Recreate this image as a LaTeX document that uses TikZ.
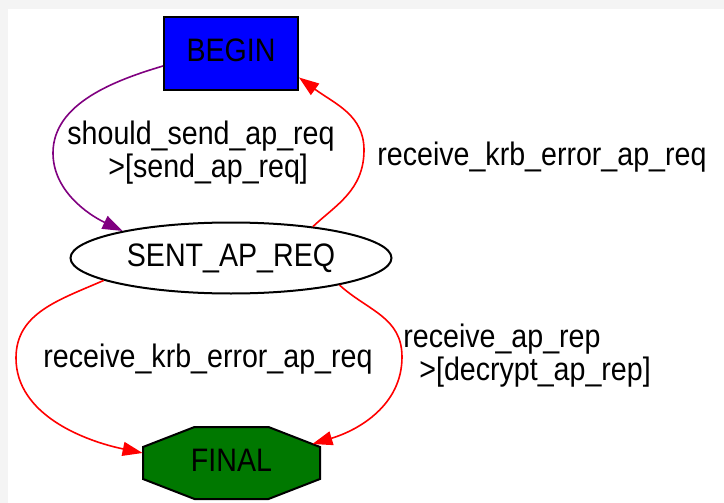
\documentclass[tikz,border=0pt]{standalone}
\usepackage{fontspec}
\setmainfont{Liberation Sans}[FakeStretch=0.88]
\usetikzlibrary{arrows.meta,calc,shapes.geometric}

\definecolor{pagegray}{HTML}{F4F4F4}
\definecolor{edgepurple}{HTML}{800080}
\definecolor{finalgreen}{HTML}{007800}

\begin{document}
\begin{tikzpicture}[
    x=0.5pt, y=-0.5pt,
    every node/.style={font=\fontsize{16.25pt}{14.25pt}\selectfont},
    state/.style={draw, line width=1pt, inner sep=0pt},
    capsup/.style={text height=11.6pt, text depth=3.5pt},
    lbl/.style={inner sep=0pt, align=left, anchor=base west},
    edge/.style={line width=0.8pt, -{Triangle[length=10pt,width=7pt]}}
  ]
  \useasboundingbox (0,0) rectangle (724,503);
  \fill[pagegray] (0,0) rectangle (724,503);
  \fill[white] (8,9) rectangle (724,503);

  % octagon of the final state
  \filldraw[fill=finalgreen, line width=1pt] (194.5,427) -- (268.5,427) -- (320,447) -- (320,479)
        -- (268.5,499) -- (194.5,499) -- (143,479) -- (143,447) -- cycle;

  % states
  \node[state, capsup, rectangle, fill=blue, minimum width=67pt, minimum height=36.5pt] (begin) at (231,53.5) {BEGIN};
  \node[state, capsup, ellipse, minimum width=160.5pt, minimum height=35.5pt] (sent) at (231,258) {SENT\_AP\_REQ};
  \node[capsup, inner sep=0pt, minimum width=88.5pt, minimum height=36pt] (final) at (231.5,463) {FINAL};

  % transitions
  \draw[edge, edgepurple] ($(begin.west)+(0,12.5)$) .. controls (116,80) and (53,103) .. (53,153)
        .. controls (53,190) and (87,214) .. (sent.166);
  \draw[edge, red] (sent.21) .. controls (336,205) and (364,190) .. (364,150)
        .. controls (364,115) and (335,104) .. ($(begin.east)+(0,24)$);
  \draw[edge, red] (sent.190) .. controls (59,300) and (16,313) .. (16,358)
        .. controls (16,415) and (85,441) .. ($(final.west)+(0,-10)$);
  \draw[edge, red] (sent.346) .. controls (368,311) and (402,317) .. (402,357)
        .. controls (402,405) and (359,430) .. ($(final.east)+(-8,-19)$);

  % labels
  \node[lbl] (sendlbl) at (67,177) {should\_send\_ap\_req\\\hspace*{20.5pt}>[send\_ap\_req]};
  \node[lbl] (errlbl) at (377,165) {receive\_krb\_error\_ap\_req};
  \node[lbl] (errlbl2) at (43,367.5) {receive\_krb\_error\_ap\_req};
  \node[lbl] (replbl) at (403,380) {receive\_ap\_rep\\\hspace*{8pt}>[decrypt\_ap\_rep]};
\end{tikzpicture}
\end{document}
